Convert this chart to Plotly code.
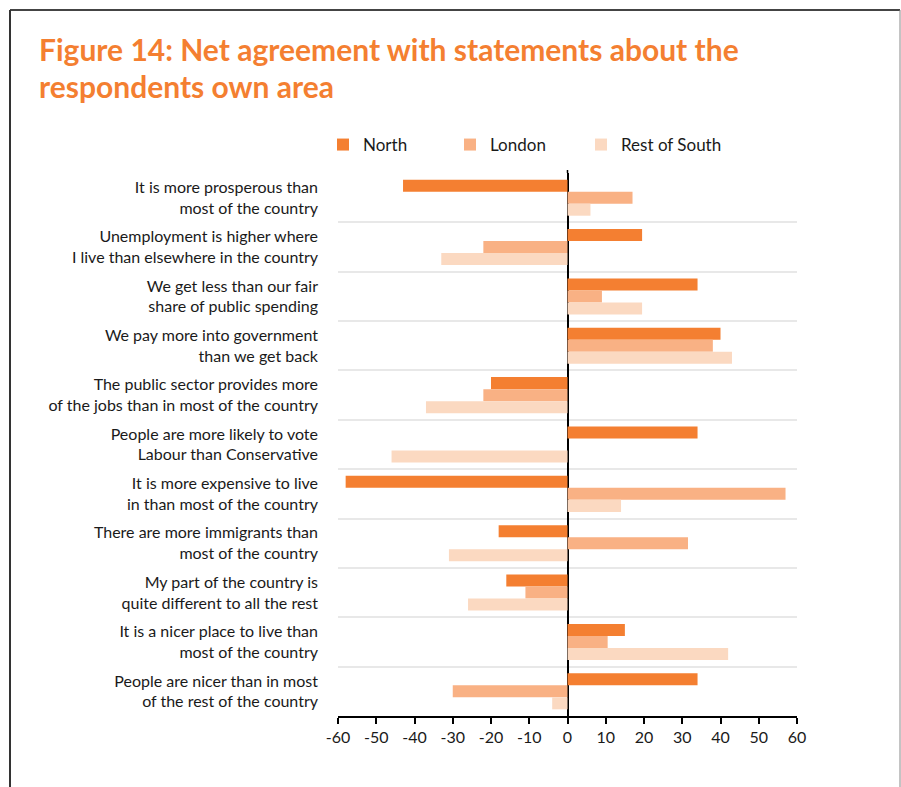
import plotly.graph_objects as go

title_lines = [
    "Figure 14: Net agreement with statements about the",
    "respondents own area",
]
categories = [
    "It is more prosperous than<br>most of the country",
    "Unemployment is higher where<br>I live than elsewhere in the country",
    "We get less than our fair<br>share of public spending",
    "We pay more into government<br>than we get back",
    "The public sector provides more<br>of the jobs than in most of the country",
    "People are more likely to vote<br>Labour than Conservative",
    "It is more expensive to live<br>in than most of the country",
    "There are more immigrants than<br>most of the country",
    "My part of the country is<br>quite different to all the rest",
    "It is a nicer place to live than<br>most of the country",
    "People are nicer than in most<br>of the rest of the country",
]
north = [-43, 19.5, 34, 40, -20, 34, -58, -18, -16, 15, 34]
london = [17, -22, 9, 38, -22, 0, 57, 31.5, -11, 10.5, -30]
rest_of_south = [6, -33, 19.5, 43, -37, -46, 14, -31, -26, 42, -4]
series_names = ["North", "London", "Rest of South"]
series_colors = ["#F47F31", "#F9B184", "#FBD9C1"]
x_ticks = [-60, -50, -40, -30, -20, -10, 0, 10, 20, 30, 40, 50, 60]

W, H = 901, 787
L, R, T, B = 338, 104, 173, 71
PW, PH = W - L - R, H - T - B


def px_x(x):
    return (x - L) / PW


def px_y(y):
    return 1 - (y - T) / PH


legend_ids = ["legend", "legend2", "legend3"]
legend_px = [323, 450, 581]

fig = go.Figure()
for name, vals, col, lid in zip(series_names, [north, london, rest_of_south], series_colors, legend_ids):
    fig.add_trace(go.Bar(
        y=categories, x=vals, name=name, orientation="h", legend=lid, showlegend=True,
        marker=dict(color=col, line=dict(width=0)),
    ))

annotations = []
for line, yc in zip(title_lines, [49, 86]):
    annotations.append(dict(
        text="<b>" + line + "</b>", xref="paper", yref="paper",
        x=px_x(37), y=px_y(yc), xanchor="left", yanchor="middle", showarrow=False,
        font=dict(family="Lato, 'Open Sans', sans-serif", size=30, color="#F47F31"),
    ))

legend_layout = {}
for lid, lx in zip(legend_ids, legend_px):
    legend_layout[lid] = dict(
        orientation="h", x=px_x(lx), xanchor="left", y=px_y(145), yanchor="middle",
        font=dict(size=17, color="#1a1a1a"), bgcolor="rgba(0,0,0,0)",
    )

fig.update_layout(
    width=W, height=H,
    margin=dict(l=L, r=R, t=T, b=B, autoexpand=False),
    paper_bgcolor="white", plot_bgcolor="white",
    showlegend=True,
    barmode="group", bargap=0.27, bargroupgap=0,
    font=dict(family="Lato, 'Open Sans', sans-serif", color="#1a1a1a"),
    annotations=annotations,
    xaxis=dict(
        range=[-60, 60], tickvals=x_ticks, ticktext=[str(v) for v in x_ticks],
        showgrid=False, zeroline=True, zerolinecolor="black", zerolinewidth=1.5,
        showline=True, linecolor="black", linewidth=1.5,
        ticks="outside", ticklen=6, tickcolor="black", tickwidth=1.5,
        tickfont=dict(size=16, color="#1a1a1a"),
    ),
    yaxis=dict(
        type="category", autorange="reversed", tickson="boundaries",
        showgrid=True, gridcolor="#E8E8E8", gridwidth=2,
        ticks="", showline=False, zeroline=False,
        tickfont=dict(size=16, color="#1a1a1a"), ticklabelstandoff=19,
    ),
    shapes=[
        dict(type="line", xref="paper", yref="paper",
             x0=px_x(10), x1=px_x(900), y0=px_y(10), y1=px_y(10),
             line=dict(color="#444444", width=2)),
        dict(type="line", xref="paper", yref="paper",
             x0=px_x(10), x1=px_x(10), y0=px_y(10), y1=px_y(790),
             line=dict(color="#333333", width=2)),
        dict(type="line", xref="paper", yref="paper",
             x0=px_x(900), x1=px_x(900), y0=px_y(10), y1=px_y(790),
             line=dict(color="#888888", width=1)),
        dict(type="line", xref="x", yref="paper",
             x0=0, x1=0, y0=px_y(170), y1=1,
             line=dict(color="black", width=1.5)),
    ],
    **legend_layout,
)

fig.write_html("out.html")
